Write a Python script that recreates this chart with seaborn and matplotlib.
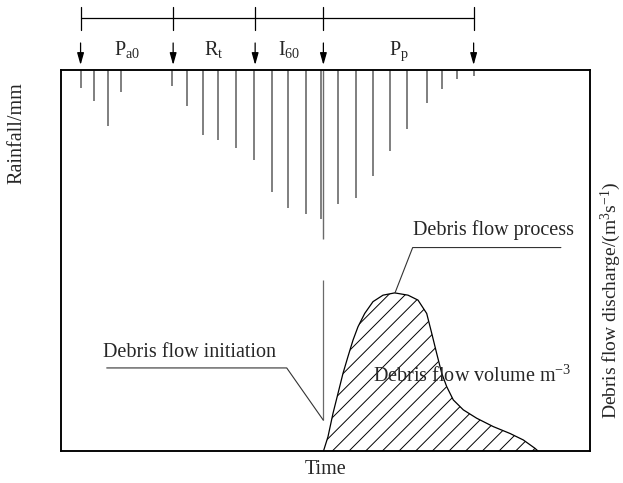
import numpy as np
import pandas as pd
import seaborn as sns
import matplotlib
matplotlib.use("Agg")
import matplotlib.pyplot as plt
import matplotlib.transforms as mtrans

# ---------------- data ----------------
rain_time = [3.7, 6.2, 8.9, 11.3, 21.0, 23.8, 26.8, 29.7, 33.1, 36.5, 39.8, 42.9,
             46.3, 49.1, 52.4, 55.7, 59.0, 62.1, 65.5, 69.1, 72.0, 74.9, 78.0]
rain_mm = [1.9, 3.3, 5.9, 2.3, 1.7, 3.8, 6.8, 7.3, 8.2, 9.4, 12.8, 14.5,
           15.1, 15.6, 14.1, 13.4, 11.1, 8.5, 6.2, 3.5, 2.0, 0.9, 0.6]

flow_time = [49.62, 50.47, 51.42, 52.36, 53.31, 54.25, 55.20, 56.14, 57.41, 58.98,
             60.87, 63.08, 65.60, 67.49, 69.13, 70.08, 71.02, 71.97, 72.91, 74.16,
             76.05, 78.58, 81.72, 84.88, 87.39, 89.60, 90.17]
flow_q = [0.0, 3.75, 9.9, 15.1, 20.4, 24.8, 29.1, 32.6, 36.1, 39.2,
          40.9, 41.5, 40.9, 39.6, 36.1, 30.9, 25.6, 20.4, 16.9, 13.4,
          10.8, 8.6, 6.4, 4.6, 2.9, 0.7, 0.0]

phase_bounds = [3.7, 21.2, 36.7, 49.6, 78.0]
phase_labels = [r"P$_{\mathrm{a0}}$", r"R$_{\mathrm{t}}$", r"I$_{\mathrm{60}}$", r"P$_{\mathrm{p}}$"]

initiation_time = 49.6

# ---------------- style ----------------
sns.set_style("white")
plt.rcParams["font.family"] = ["Liberation Serif", "DejaVu Serif"]
plt.rcParams["mathtext.fontset"] = "custom"
plt.rcParams["mathtext.rm"] = "Liberation Serif"
plt.rcParams["mathtext.it"] = "Liberation Serif:italic"
plt.rcParams["mathtext.bf"] = "Liberation Serif:bold"
plt.rcParams["hatch.linewidth"] = 0.7
plt.rcParams["hatch.color"] = "black"

FS = 14.5

fig = plt.figure(figsize=(6.23, 4.83), dpi=100)
ax = fig.add_axes([61 / 623, 32 / 483, 529 / 623, 381 / 483])
ax2 = ax.twinx()

ax.set_xlim(0, 100)
ax.set_ylim(40, 0)      # rainfall hangs from the top
ax2.set_ylim(0, 100)    # discharge rises from the bottom

# rainfall bars
ax.vlines(rain_time, 0, rain_mm, color="#6a6a6a", lw=1.2)
# initiation time marker
ax.vlines(initiation_time, 0, 17.7, color="#6a6a6a", lw=1.0)
ax2.vlines(initiation_time, 8.1, 44.9, color="#6a6a6a", lw=0.9)

# discharge hydrograph
df = pd.DataFrame({"time": flow_time, "discharge": flow_q})
sns.lineplot(data=df, x="time", y="discharge", ax=ax2, color="black", lw=0.9,
             sort=False, estimator=None)
ax2.fill_between(flow_time, 0, flow_q, facecolor="none", edgecolor="black",
                 hatch="//", lw=0)

# leader lines and annotations
ax2.plot([8.64, 42.67, 49.58], [21.8, 21.8, 8.1], color="#333333", lw=0.8)
ax2.text(8.0, 24.75, "Debris flow initiation", fontsize=FS, ha="left", va="baseline")
ax2.plot([63.14, 66.48, 94.5], [41.5, 53.4, 53.4], color="#333333", lw=0.8)
ax2.text(66.5, 56.7, "Debris flow process", fontsize=FS, ha="left", va="baseline")
ax2.text(59.0, 18.2, r"Debris flow volume m$^{-3}$", fontsize=FS, ha="left", va="baseline")

# phase bracket on top
trans = mtrans.blended_transform_factory(ax.transData, ax.transAxes)
ax.plot([phase_bounds[0], phase_bounds[-1]], [1.1365, 1.1365], transform=trans,
        clip_on=False, color="black", lw=0.9)
for b in phase_bounds:
    ax.plot([b, b], [1.105, 1.1654], transform=trans, clip_on=False, color="black", lw=0.9)
    ax.annotate("", xy=(b, 1.0131), xytext=(b, 1.0709), xycoords=trans, textcoords=trans,
                arrowprops=dict(arrowstyle="-|>,head_length=0.6,head_width=0.17",
                                mutation_scale=12, color="black", lw=0.9,
                                shrinkA=0, shrinkB=0))
for lab, a, b in zip(phase_labels, phase_bounds[:-1], phase_bounds[1:]):
    ax.text((a + b) / 2, 1.0394, lab, transform=trans, fontsize=FS, ha="center",
            va="baseline")

# axes cosmetics
ax.set_xticks([])
ax.set_yticks([])
ax2.set_yticks([])
for a in (ax, ax2):
    for s in a.spines.values():
        s.set_color("black")
        s.set_linewidth(1.1)

ax.set_xlabel("Time", fontsize=FS)
ax.xaxis.set_label_coords(0.5, (451 - 474) / 381)
ax.xaxis.label.set_va("baseline")

ax.set_ylabel("Rainfall/mm", fontsize=FS)
ax.yaxis.set_label_coords((16.7 - 61) / 529, (451 - 133.5) / 381)
ax.yaxis.label.set(va="center", ha="center")

ax2.set_ylabel(r"Debris flow discharge/(m$^{3}$s$^{-1}$)", fontsize=14)
ax2.yaxis.set_label_coords((611 - 61) / 529, (451 - 300) / 381)
ax2.yaxis.label.set(va="center", ha="center", rotation=90)

fig.savefig("out.png", dpi=100)
